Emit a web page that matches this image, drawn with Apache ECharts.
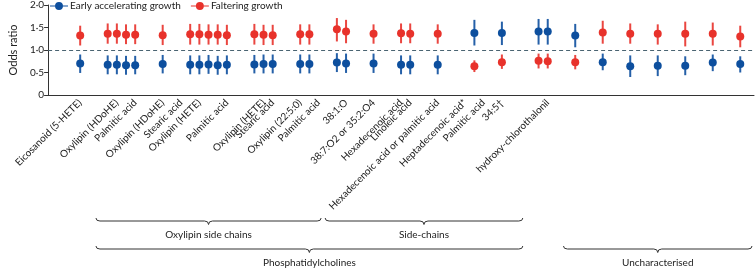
<!DOCTYPE html>
<html>
<head>
<meta charset="utf-8">
<script src="https://cdn.jsdelivr.net/npm/echarts/dist/echarts.min.js"></script>
<style>
  html, body { margin: 0; padding: 0; background: #fff; }
  #chart { width: 755px; height: 268px; }
</style>
</head>
<body>
<div id="chart"></div>
<script>
// x axis is a row of equal slots; estimates sit in some, the rest are gaps
var slotCount = 77;
// slots where a tick mark opens a new group
var groupTicks = [0, 5, 11, 14, 21, 26, 30, 34, 37, 41, 44, 48, 52, 56, 59, 62, 65, 68, 71, 74];

// rotated tick labels and the slot each one hangs from
var labelSlots = [3, 7, 9, 12, 14, 16, 19, 23, 24, 27, 29, 32, 35, 38, 39, 42, 45, 47, 49, 54];
var labelTexts = [
  'Eicosanoid (5-HETE)', 'Oxylipin (HDoHE)', 'Palmitic acid', 'Oxylipin (HDoHE)', 'Stearic acid',
  'Oxylipin (HETE)', 'Palmitic acid', 'Oxylipin (HETE)', 'Stearic acid', 'Oxylipin (22:5:0)',
  'Palmitic acid', '38:1:O', '38:7:O2 or 35:2:O4', 'Hexadecenoic acid', 'Linoleic acid',
  'Hexadecenoic acid or palmitic acid', 'Heptadecenoic acid*', 'Palmitic acid', '34:5\u2020',
  'hydroxy-chlorothalonil'
];

// slot of every estimate
var pointSlots = [3, 6, 7, 8, 9, 12, 15, 16, 17, 18, 19, 22, 23, 24, 27, 28, 31, 32, 35, 38, 39,
  42, 46, 49, 53, 54, 57, 60, 63, 66, 69, 72, 75];

// odds ratios with 95% CI
var earlyOR = [0.70, 0.67, 0.67, 0.66, 0.66, 0.69, 0.67, 0.67, 0.68, 0.66, 0.67, 0.68, 0.69, 0.69,
  0.69, 0.69, 0.72, 0.70, 0.70, 0.67, 0.67, 0.67, 1.38, 1.38, 1.41, 1.41, 1.32, 0.73, 0.64, 0.65,
  0.65, 0.72, 0.69];
var earlyLow = [0.49, 0.46, 0.46, 0.45, 0.46, 0.48, 0.46, 0.46, 0.47, 0.45, 0.46, 0.48, 0.48, 0.48,
  0.48, 0.48, 0.51, 0.49, 0.49, 0.46, 0.46, 0.46, 1.10, 1.11, 1.12, 1.12, 1.06, 0.55, 0.40, 0.42,
  0.44, 0.53, 0.50];
var earlyHigh = [0.90, 0.88, 0.88, 0.87, 0.87, 0.89, 0.88, 0.88, 0.89, 0.87, 0.88, 0.89, 0.90, 0.90,
  0.90, 0.90, 0.93, 0.92, 0.92, 0.88, 0.88, 0.88, 1.67, 1.63, 1.69, 1.69, 1.58, 0.92, 0.88, 0.88,
  0.86, 0.90, 0.86];

var falterOR = [1.32, 1.36, 1.36, 1.34, 1.34, 1.33, 1.35, 1.35, 1.34, 1.34, 1.33, 1.35, 1.34, 1.33,
  1.35, 1.35, 1.46, 1.41, 1.36, 1.37, 1.36, 1.36, 0.64, 0.73, 0.76, 0.75, 0.73, 1.39, 1.36, 1.36,
  1.36, 1.36, 1.30];
var falterLow = [1.10, 1.14, 1.14, 1.13, 1.13, 1.11, 1.12, 1.12, 1.12, 1.12, 1.11, 1.12, 1.11, 1.11,
  1.12, 1.12, 1.19, 1.15, 1.14, 1.15, 1.15, 1.14, 0.51, 0.58, 0.59, 0.59, 0.57, 1.14, 1.14, 1.12,
  1.08, 1.10, 1.06];
var falterHigh = [1.54, 1.59, 1.59, 1.57, 1.57, 1.56, 1.58, 1.58, 1.57, 1.57, 1.56, 1.58, 1.56, 1.56,
  1.57, 1.57, 1.71, 1.67, 1.57, 1.59, 1.59, 1.57, 0.77, 0.90, 0.92, 0.92, 0.89, 1.65, 1.59, 1.57,
  1.63, 1.61, 1.54];

// braces under the labels: first slot, last slot, row
var braceNames = ['Oxylipin side chains', 'Side-chains', 'Phosphatidylcholines', 'Uncharacterised'];
var braceFrom = [5, 30, 5, 56];
var braceTo = [29, 51, 51, 76];
var braceRow = [0, 0, 1, 1];

var BLUE = '#0d4f9e';
var RED = '#e8322b';
var FONT = 'Lato';

var categories = [];
for (var i = 0; i < slotCount; i++) categories.push('s' + i);
var labelOf = {};
labelSlots.forEach(function (s, k) { labelOf['s' + s] = labelTexts[k]; });

function points(vals) {
  return pointSlots.map(function (s, k) { return [s, vals[k]]; });
}
function bars(lo, hi) {
  return pointSlots.map(function (s, k) { return [s, lo[k], hi[k]]; });
}

function renderBar(color) {
  return function (params, api) {
    var a = api.coord([api.value(0), api.value(1)]);
    var b = api.coord([api.value(0), api.value(2)]);
    return {
      type: 'line',
      shape: { x1: a[0], y1: a[1], x2: b[0], y2: b[1] },
      style: { stroke: color, lineWidth: 2, opacity: 0.9 }
    };
  };
}

function renderBrace(params, api) {
  var bw = api.size([1, 0])[0];
  var x0 = api.coord([api.value(0), 0])[0] - bw / 2 + 2;
  var x1 = api.coord([api.value(1), 0])[0] + bw / 2 - 2;
  var base = api.coord([0, 0])[1];
  var top = base + 123 + api.value(2) * 28;
  var line = top + 3;
  var tip = top + 6.5;
  var mid = (x0 + x1) / 2;
  var st = { stroke: '#333', lineWidth: 1, fill: null };
  return {
    type: 'group',
    children: [
      { type: 'bezierCurve', shape: { x1: x0, y1: top, x2: x0 + 4, y2: line, cpx1: x0, cpy1: line }, style: st },
      { type: 'line', shape: { x1: x0 + 4, y1: line, x2: mid - 4, y2: line }, style: st },
      { type: 'bezierCurve', shape: { x1: mid - 4, y1: line, x2: mid, y2: tip, cpx1: mid, cpy1: line }, style: st },
      { type: 'bezierCurve', shape: { x1: mid, y1: tip, x2: mid + 4, y2: line, cpx1: mid, cpy1: line }, style: st },
      { type: 'line', shape: { x1: mid + 4, y1: line, x2: x1 - 4, y2: line }, style: st },
      { type: 'bezierCurve', shape: { x1: x1 - 4, y1: line, x2: x1, y2: top, cpx1: x1, cpy1: line }, style: st },
      {
        type: 'text',
        style: {
          x: mid, y: line + 14, text: braceNames[params.dataIndex],
          align: 'center', verticalAlign: 'middle',
          font: '10px ' + FONT, fill: '#222'
        }
      }
    ]
  };
}

var legendIcon = 'path://M0,4.4 L20,4.4 L20,5.6 L0,5.6 Z M10,0.6 A4.4,4.4 0 1,1 9.99,0.6 Z';

var chart = echarts.init(document.getElementById('chart'));
chart.setOption({
  animation: false,
  textStyle: { fontFamily: FONT },
  legend: {
    left: 50, top: 1, padding: 0, itemGap: 10,
    itemWidth: 18, itemHeight: 9,
    textStyle: { fontSize: 10, color: '#222', fontFamily: FONT, padding: [0, 0, 0, -3] },
    data: [
      { name: 'Early accelerating growth', icon: legendIcon },
      { name: 'Faltering growth', icon: legendIcon }
    ]
  },
  grid: { left: 38, right: 1, top: 4, bottom: 173, containLabel: false },
  xAxis: {
    type: 'category',
    data: categories,
    boundaryGap: true,
    axisLine: { lineStyle: { color: '#333', width: 1 } },
    axisTick: {
      length: 5,
      alignWithLabel: false,
      interval: function (idx) { return groupTicks.indexOf(idx) >= 0; },
      lineStyle: { color: '#333' }
    },
    axisLabel: {
      interval: 0, rotate: 45, margin: 6, fontSize: 10, color: '#222', fontFamily: FONT,
      hideOverlap: false,
      formatter: function (v) { return labelOf[v] || ''; }
    }
  },
  yAxis: {
    type: 'value', min: 0, max: 2, interval: 0.5,
    name: 'Odds ratio', nameLocation: 'middle', nameGap: 25,
    nameTextStyle: { fontSize: 11, color: '#222', fontFamily: FONT },
    axisLine: { show: true, lineStyle: { color: '#333' } },
    axisTick: { show: true, length: 4, lineStyle: { color: '#333' } },
    splitLine: { show: false },
    axisLabel: {
      fontSize: 10, color: '#222', margin: 4, fontFamily: FONT,
      formatter: function (v) { return v === 0 ? '0' : v.toFixed(1).replace('.', '\u00b7'); }
    }
  },
  series: [
    {
      type: 'custom', name: 'Early accelerating growth',
      renderItem: renderBar(BLUE), data: bars(earlyLow, earlyHigh),
      encode: { x: 0, y: [1, 2] }, itemStyle: { color: BLUE }, z: 2
    },
    {
      type: 'custom', name: 'Faltering growth',
      renderItem: renderBar(RED), data: bars(falterLow, falterHigh),
      encode: { x: 0, y: [1, 2] }, itemStyle: { color: RED }, z: 2
    },
    {
      type: 'scatter', name: 'Early accelerating growth',
      data: points(earlyOR), symbolSize: 8, itemStyle: { color: BLUE, opacity: 1 }, z: 3
    },
    {
      type: 'scatter', name: 'Faltering growth',
      data: points(falterOR), symbolSize: 8, itemStyle: { color: RED, opacity: 1 }, z: 3,
      markLine: {
        silent: true, symbol: 'none', label: { show: false },
        lineStyle: { color: '#4a6472', type: [4, 3], width: 1 },
        data: [{ yAxis: 1 }]
      }
    },
    {
      type: 'custom', name: 'braces', clip: false,
      renderItem: renderBrace,
      data: braceFrom.map(function (f, k) { return [f, braceTo[k], braceRow[k]]; }),
      encode: { x: [0, 1] }, silent: true
    }
  ]
});
</script>
</body>
</html>
